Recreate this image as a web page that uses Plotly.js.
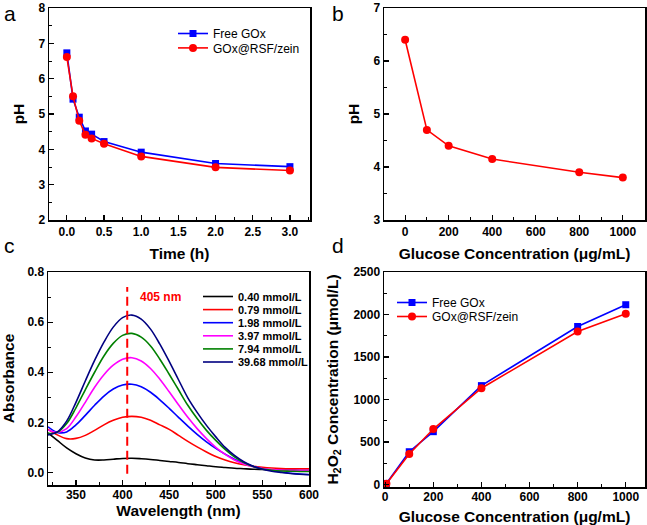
<!DOCTYPE html>
<html>
<head>
<meta charset="utf-8">
<script src="https://cdn.plot.ly/plotly-3.0.1.min.js"></script>
<style>html,body{margin:0;padding:0;background:#fff;}#chart{width:647px;height:525px;}</style>
</head>
<body>
<div id="chart"></div>
<script>
// ---- Panel a: pH vs time ----
const timeH = [0, 0.083, 0.167, 0.25, 0.333, 0.5, 1, 2, 3];
const phFreeA = [6.73, 5.42, 4.91, 4.52, 4.43, 4.22, 3.92, 3.60, 3.51];
const phRsfA  = [6.61, 5.50, 4.81, 4.41, 4.31, 4.16, 3.80, 3.49, 3.40];

// ---- Panel b: pH vs glucose ----
const glucoseB = [0, 100, 200, 400, 800, 1000];
const phB = [6.40, 4.70, 4.40, 4.15, 3.90, 3.80];

// ---- Panel c: absorbance spectra ----
const wavelength = [320,330,340,350,360,370,380,390,400,410,420,430,440,450,460,470,480,490,500,510,520,530,540,550,560,570,580,590,600];
const spectraLabels = ['0.40 mmol/L','0.79 mmol/L','1.98 mmol/L','3.97 mmol/L','7.94 mmol/L','39.68 mmol/L'];
const abs040 = [0.158,0.128,0.098,0.075,0.058,0.050,0.050,0.053,0.056,0.057,0.055,0.052,0.048,0.044,0.040,0.035,0.031,0.027,0.023,0.020,0.017,0.015,0.013,0.012,0.011,0.010,0.010,0.009,0.009];
const abs079 = [0.172,0.150,0.135,0.136,0.148,0.168,0.190,0.208,0.220,0.224,0.220,0.208,0.190,0.172,0.148,0.124,0.102,0.082,0.064,0.050,0.039,0.031,0.025,0.021,0.018,0.016,0.015,0.015,0.015];
const abs198 = [0.182,0.160,0.162,0.190,0.228,0.268,0.305,0.333,0.349,0.352,0.342,0.320,0.290,0.256,0.220,0.185,0.152,0.122,0.096,0.073,0.053,0.037,0.025,0.015,0.008,0.002,-0.003,-0.006,-0.008];
const abs397 = [0.170,0.160,0.175,0.222,0.280,0.340,0.390,0.428,0.452,0.458,0.445,0.415,0.372,0.322,0.270,0.220,0.175,0.135,0.100,0.072,0.050,0.034,0.023,0.016,0.012,0.010,0.009,0.009,0.009];
const abs794 = [0.155,0.160,0.195,0.258,0.330,0.400,0.465,0.515,0.547,0.555,0.540,0.505,0.452,0.392,0.330,0.268,0.215,0.168,0.128,0.092,0.062,0.040,0.024,0.014,0.009,0.006,0.005,0.004,0.004];
const abs3968 = [0.150,0.162,0.205,0.280,0.365,0.447,0.520,0.580,0.618,0.628,0.612,0.572,0.512,0.443,0.370,0.298,0.240,0.188,0.142,0.100,0.068,0.043,0.025,0.013,0.005,0.000,-0.004,-0.007,-0.009];
const spectraColors = ['#000000','#ff0000','#0000ff','#ff00ff','#008000','#000080'];
const peakWavelength = 405;
const peakLineY = [-0.005, 0.74];

// ---- Panel d: H2O2 vs glucose ----
const glucoseD = [5, 100, 200, 400, 800, 1000];
const h2o2Free = [12, 385, 621, 1163, 1859, 2115];
const h2o2Rsf  = [8, 358, 652, 1132, 1800, 2008];

const FONT = 'Liberation Sans, Arial, sans-serif';
const BLUE = '#0000ff', RED = '#ff0000';

const traces = [];
traces.push({x: timeH, y: phFreeA, name: 'Free GOx', xaxis: 'x', yaxis: 'y', mode: 'lines+markers',
  line: {color: BLUE, width: 1.6}, marker: {symbol: 'square', size: 7, color: BLUE}, legend: 'legend'});
traces.push({x: timeH, y: phRsfA, name: 'GOx@RSF/zein', xaxis: 'x', yaxis: 'y', mode: 'lines+markers',
  line: {color: RED, width: 1.6}, marker: {symbol: 'circle', size: 8, color: RED}, legend: 'legend'});
traces.push({x: glucoseB, y: phB, name: 'pH', xaxis: 'x2', yaxis: 'y2', mode: 'lines+markers', showlegend: false,
  line: {color: RED, width: 1.6}, marker: {symbol: 'circle', size: 8, color: RED}});
const spectra = [abs040, abs079, abs198, abs397, abs794, abs3968];
spectra.forEach((s, i) => {
  traces.push({x: wavelength, y: s, name: spectraLabels[i], xaxis: 'x3', yaxis: 'y3', mode: 'lines',
    line: {color: spectraColors[i], width: 1.6, shape: 'spline', smoothing: 1}, legend: 'legend3'});
});
traces.push({x: [peakWavelength, peakWavelength], y: peakLineY, xaxis: 'x3', yaxis: 'y3', mode: 'lines', showlegend: false,
  line: {color: RED, width: 2, dash: '9px,5px'}, hoverinfo: 'skip'});
traces.push({x: glucoseD, y: h2o2Free, name: 'Free GOx', xaxis: 'x4', yaxis: 'y4', mode: 'lines+markers',
  line: {color: BLUE, width: 1.6}, marker: {symbol: 'square', size: 7, color: BLUE}, legend: 'legend2'});
traces.push({x: glucoseD, y: h2o2Rsf, name: 'GOx@RSF/zein', xaxis: 'x4', yaxis: 'y4', mode: 'lines+markers',
  line: {color: RED, width: 1.6}, marker: {symbol: 'circle', size: 8, color: RED}, legend: 'legend2'});

const W = 647, H = 525;
const dx = (a, b) => [a / W, b / W];
const dy = (top, bottom) => [1 - bottom / H, 1 - top / H];

const tickFont = {family: FONT, size: 12, color: '#000', weight: 'bold'};
const titleFont = {family: FONT, size: 15.5, color: '#000', weight: 'bold'};
function ax(extra) {
  return Object.assign({
    showline: true, mirror: true, linecolor: '#000', linewidth: 1.5,
    ticks: 'inside', ticklen: 5, tickwidth: 1.2, tickcolor: '#000',
    showgrid: false, zeroline: false, tickfont: tickFont
  }, extra);
}
const minorTicks = d => ({ticks: 'inside', ticklen: 3, tickwidth: 1, dtick: d, tickcolor: '#000'});

const layout = {
  width: W, height: H, margin: {l: 0, r: 0, t: 0, b: 0},
  paper_bgcolor: '#fff', plot_bgcolor: '#fff', font: {family: FONT, color: '#000'},
  xaxis: ax({domain: dx(49, 310), range: [-0.24, 3.27], dtick: 0.5, tickformat: '.1f', minor: minorTicks(0.25),
    title: {text: 'Time (h)', font: titleFont, standoff: 10}, anchor: 'y'}),
  yaxis: ax({domain: dy(8, 220), range: [2, 8], dtick: 1, minor: minorTicks(0.5),
    title: {text: 'pH', font: titleFont, standoff: 10}, anchor: 'x'}),
  xaxis2: ax({domain: dx(384, 645), range: [-97, 1102], dtick: 200, minor: minorTicks(100),
    title: {text: 'Glucose Concentration (μg/mL)', font: titleFont, standoff: 10}, anchor: 'y2'}),
  yaxis2: ax({domain: dy(8, 220), range: [3, 7], dtick: 1, minor: minorTicks(0.5),
    title: {text: 'pH', font: titleFont, standoff: 10}, anchor: 'x2'}),
  xaxis3: ax({domain: dx(48, 309), range: [320, 600], dtick: 50, minor: minorTicks(25), ticklabelstandoff: -2,
    title: {text: 'Wavelength (nm)', font: titleFont, standoff: 0}, anchor: 'y3'}),
  yaxis3: ax({domain: dy(272, 485), range: [-0.05, 0.8], dtick: 0.2, tickformat: '.1f', minor: minorTicks(0.1),
    title: {text: 'Absorbance', font: titleFont, standoff: 9}, anchor: 'x3'}),
  xaxis4: ax({domain: dx(384, 645), range: [-5, 1080], dtick: 200, minor: minorTicks(100), ticklabelstandoff: -2,
    title: {text: 'Glucose Concentration (μg/mL)', font: titleFont, standoff: 8}, anchor: 'y4'}),
  yaxis4: ax({domain: dy(272, 487), range: [-30, 2500], dtick: 500, minor: minorTicks(250),
    title: {text: 'H<sub>2</sub>O<sub>2</sub> Concentration (μmol/L)', font: titleFont, standoff: 11}, anchor: 'x4'}),
  legend: {x: 173 / W, y: 1 - 19 / H, xanchor: 'left', yanchor: 'top', bgcolor: 'rgba(0,0,0,0)',
    font: {family: FONT, size: 12, color: '#000'}},
  legend2: {x: 392 / W, y: 1 - 288 / H, xanchor: 'left', yanchor: 'top', bgcolor: 'rgba(0,0,0,0)',
    font: {family: FONT, size: 12, color: '#000'}},
  legend3: {x: 198 / W, y: 1 - 282 / H, xanchor: 'left', yanchor: 'top', bgcolor: 'rgba(0,0,0,0)',
    font: {family: FONT, size: 11, color: '#000', weight: 'bold'}},
  annotations: [
    {text: 'a', xref: 'paper', yref: 'paper', x: 2 / W, y: 1 - 14 / H, xanchor: 'left', yanchor: 'middle', showarrow: false, font: {family: FONT, size: 21}},
    {text: 'b', xref: 'paper', yref: 'paper', x: 330 / W, y: 1 - 14 / H, xanchor: 'left', yanchor: 'middle', showarrow: false, font: {family: FONT, size: 21}},
    {text: 'c', xref: 'paper', yref: 'paper', x: 2 / W, y: 1 - 245 / H, xanchor: 'left', yanchor: 'middle', showarrow: false, font: {family: FONT, size: 21}},
    {text: 'd', xref: 'paper', yref: 'paper', x: 330 / W, y: 1 - 245 / H, xanchor: 'left', yanchor: 'middle', showarrow: false, font: {family: FONT, size: 21}},
    {text: '405 nm', xref: 'x3', yref: 'y3', x: 417, y: 0.70, xanchor: 'left', yanchor: 'middle', showarrow: false,
      font: {family: FONT, size: 12, color: RED, weight: 'bold'}}
  ]
};

// tighter legend row spacing, as in the reference figure
const legendRowGap = {legend: 14.4, legend2: 14, legend3: 13.1};

Plotly.newPlot('chart', traces, layout, {staticPlot: true, displayModeBar: false}).then(() => {
  Object.keys(legendRowGap).forEach(id => {
    const g = document.querySelector('g.' + id);
    if (!g) return;
    const items = g.querySelectorAll('g.traces');
    let x0 = null, y0 = null;
    items.forEach((el, i) => {
      const m = /translate\(\s*([-\d.]+)[ ,]+([-\d.]+)\s*\)/.exec(el.getAttribute('transform') || '');
      if (!m) return;
      if (i === 0) { x0 = parseFloat(m[1]); y0 = parseFloat(m[2]); }
      el.setAttribute('transform', 'translate(' + x0 + ',' + (y0 + i * legendRowGap[id]) + ')');
    });
  });
});
</script>
</body>
</html>
